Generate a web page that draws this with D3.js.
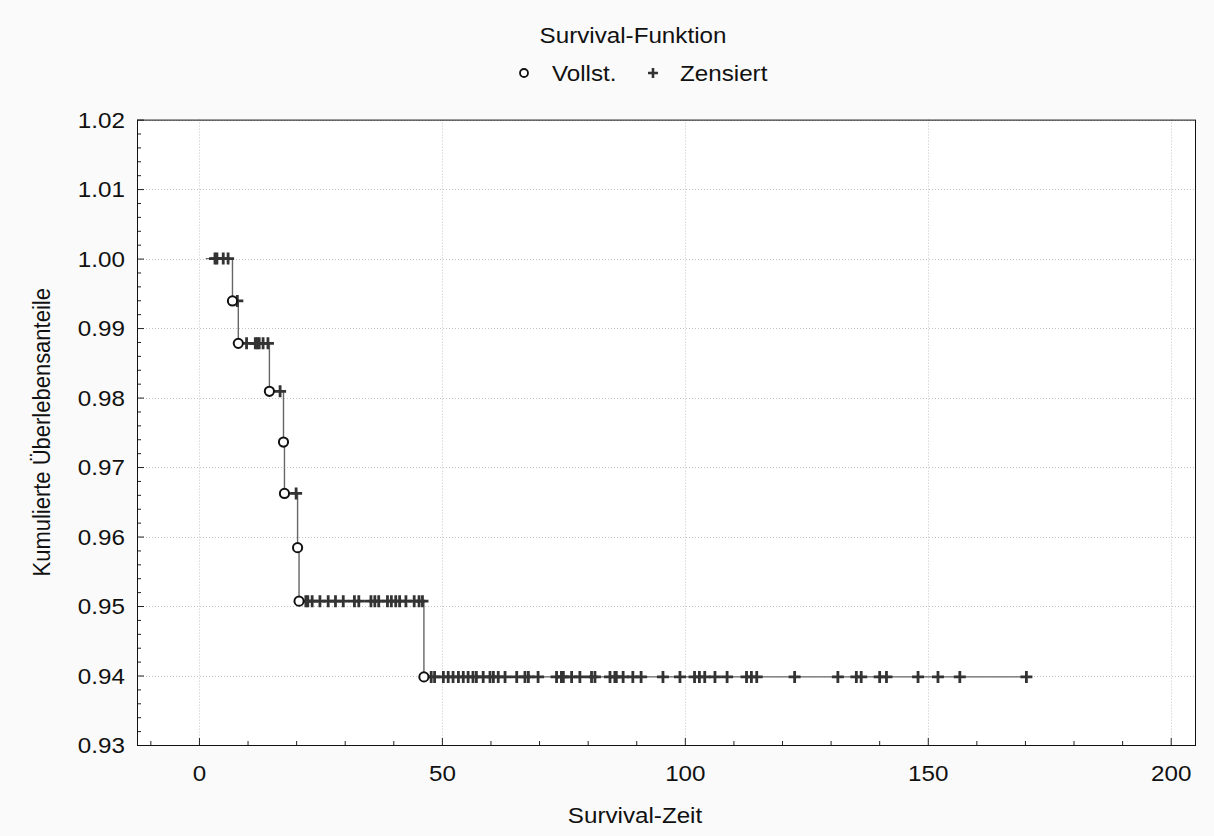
<!DOCTYPE html>
<html>
<head>
<meta charset="utf-8">
<script src="https://cdn.jsdelivr.net/npm/d3@7"></script>
<style>
  body { margin: 0; background: #fafafa; }
  svg { display: block; font-family: "Liberation Sans", Arial, sans-serif; }
</style>
</head>
<body>
<svg></svg>
<script>
// Kaplan-Meier curve: first observed time, event times (Vollst.) and survival after each event
const curveStart = { t: 1.4, s: 1.0 };
const eventTime = [6.9, 8.1, 14.5, 17.4, 17.6, 20.3, 20.6, 46.3];
const eventSurv = [0.9939, 0.9878, 0.9809, 0.9736, 0.9662, 0.9584, 0.9507, 0.9398];

// censored (Zensiert) times, grouped by the survival level they sit on
const censLevel = [1.0, 0.9939, 0.9878, 0.9809, 0.9662, 0.9507, 0.9398];
const censTimes = [
  [3.3, 3.7, 5.0, 6.0],
  [7.9],
  [9.8, 11.6, 12.0, 12.4, 13.2, 14.2],
  [16.7],
  [20.0],
  [22.0, 22.4, 23.3, 24.9, 26.6, 28.1, 29.7, 32.0, 32.9, 35.4, 36.2, 37.0,
   38.8, 39.6, 40.5, 41.3, 42.6, 44.3, 45.3, 46.0],
  [47.8, 48.5, 50.3, 51.3, 52.3, 53.4, 54.4, 55.4, 56.4, 57.1, 58.5, 59.9,
   60.6, 61.6, 63.0, 65.4, 67.1, 67.8, 69.8, 73.6, 74.6, 75.0, 76.7, 78.4,
   80.8, 81.5, 84.6, 85.6, 85.9, 87.3, 89.3, 91.0, 95.5, 99.0, 102.0, 103.0,
   104.1, 106.2, 108.7, 112.7, 113.7, 114.8, 122.6, 131.5, 135.3, 136.3,
   140.1, 141.5, 148.0, 152.1, 156.6, 170.3]
];

const xTicks = [0, 50, 100, 150, 200];
const xMinor = [-10, 10, 20, 30, 40, 60, 70, 80, 90, 110, 120, 130, 140, 160, 170, 180, 190];
const yTicks = [0.93, 0.94, 0.95, 0.96, 0.97, 0.98, 0.99, 1.00, 1.01, 1.02];

const title = "Survival-Funktion";
const legendLabels = ["Vollst.", "Zensiert"];
const xTitle = "Survival-Zeit";
const yTitle = "Kumulierte Überlebensanteile";

// layout
const W = 1214, H = 836;
const plot = { left: 137, right: 1195, top: 119.6, bottom: 745 };
const stretch = "scale(1.1,1)"; // text in the source is a bit wide

const svg = d3.select("svg").attr("width", W).attr("height", H);

svg.append("rect").attr("width", W).attr("height", H).attr("fill", "#fafafa");
svg.append("rect")
  .attr("x", plot.left).attr("y", plot.top)
  .attr("width", plot.right - plot.left).attr("height", plot.bottom - plot.top)
  .attr("fill", "#ffffff");

const x = d3.scaleLinear().domain([-12.75, 205]).range([plot.left, plot.right]);
const y = d3.scaleLinear().domain([0.93, 1.02]).range([plot.bottom, plot.top]);

// dotted grid
const grid = svg.append("g").attr("stroke", "#c4c4c4").attr("stroke-dasharray", "1,2").attr("stroke-width", 1);
grid.selectAll(".gx").data(xTicks).enter().append("line")
  .attr("x1", d => Math.round(x(d)) + 0.5).attr("x2", d => Math.round(x(d)) + 0.5)
  .attr("y1", plot.top).attr("y2", plot.bottom);
grid.selectAll(".gy").data(yTicks).enter().append("line")
  .attr("x1", plot.left).attr("x2", plot.right)
  .attr("y1", d => Math.round(y(d)) + 0.5).attr("y2", d => Math.round(y(d)) + 0.5);

// axes (ticks point into the plot)
const xAxis = svg.append("g")
  .attr("transform", `translate(0,${plot.bottom})`)
  .call(d3.axisBottom(x).tickValues(xTicks).tickSize(-7).tickFormat(d3.format("d")));
svg.append("g")
  .attr("transform", `translate(0,${plot.bottom})`)
  .call(d3.axisBottom(x).tickValues(xMinor).tickSize(-4).tickFormat(""))
  .call(g => g.select(".domain").remove());

const yMinor = d3.range(0, 46).map(i => 0.93 + i * 0.002).filter(v => Math.round(v * 1000) % 10 !== 0);
const yAxis = svg.append("g")
  .attr("transform", `translate(${plot.left},0)`)
  .call(d3.axisLeft(y).tickValues(yTicks).tickSize(-7).tickFormat(d3.format(".2f")));
svg.append("g")
  .attr("transform", `translate(${plot.left},0)`)
  .call(d3.axisLeft(y).tickValues(yMinor).tickSize(-4).tickFormat(""))
  .call(g => g.select(".domain").remove());

svg.selectAll(".domain").remove();
svg.selectAll(".tick line").attr("stroke", "#222");

xAxis.selectAll("text")
  .attr("y", 36).attr("dy", 0)
  .attr("font-size", 22).attr("fill", "#111")
  .attr("transform", stretch);
yAxis.selectAll("text")
  .attr("x", -11).attr("dy", "0.35em")
  .attr("font-size", 22).attr("fill", "#111")
  .attr("transform", stretch);

// frame
svg.append("rect")
  .attr("x", plot.left + 0.5).attr("y", plot.top + 0.5)
  .attr("width", plot.right - plot.left).attr("height", plot.bottom - plot.top)
  .attr("fill", "none").attr("stroke", "#111").attr("stroke-width", 1);

// step line
const curvePts = [curveStart].concat(eventTime.map((t, i) => ({ t: t, s: eventSurv[i] })));
curvePts.push({ t: d3.max(censTimes[censTimes.length - 1]), s: eventSurv[eventSurv.length - 1] });
const line = d3.line().x(d => x(d.t)).y(d => y(d.s)).curve(d3.curveStepAfter);
svg.append("path")
  .datum(curvePts)
  .attr("d", line)
  .attr("fill", "none")
  .attr("stroke", "#666")
  .attr("stroke-width", 1.4);

// censored marks
const plusPath = "M-6,0H6M0,-6V6";
const censPts = [];
censTimes.forEach((ts, i) => ts.forEach(t => censPts.push({ t: t, s: censLevel[i] })));
svg.append("g").selectAll("path").data(censPts).enter().append("path")
  .attr("d", plusPath)
  .attr("transform", d => `translate(${x(d.t)},${y(d.s)})`)
  .attr("stroke", "#333").attr("stroke-width", 2.8).attr("fill", "none");

// complete (event) marks
svg.append("g").selectAll("circle").data(eventTime).enter().append("circle")
  .attr("cx", d => x(d))
  .attr("cy", (d, i) => y(eventSurv[i]))
  .attr("r", 4.6)
  .attr("fill", "#fff").attr("stroke", "#111").attr("stroke-width", 2);

// title and legend
function stretchedText(tx, ty, str, anchor) {
  svg.append("text")
    .attr("transform", `translate(${tx},${ty}) ${stretch}`)
    .attr("text-anchor", anchor)
    .attr("font-size", 22).attr("fill", "#111")
    .text(str);
}
stretchedText(633, 43, title, "middle");
svg.append("circle").attr("cx", 524).attr("cy", 73).attr("r", 4)
  .attr("fill", "#fff").attr("stroke", "#111").attr("stroke-width", 1.8);
stretchedText(552, 81, legendLabels[0], "start");
svg.append("path").attr("d", "M-5,0H5M0,-5V5").attr("transform", "translate(653,73)")
  .attr("stroke", "#333").attr("stroke-width", 2.6);
stretchedText(680, 81, legendLabels[1], "start");

// axis titles
stretchedText(635, 823, xTitle, "middle");
svg.append("text")
  .attr("transform", `translate(50,${(plot.top + plot.bottom) / 2}) rotate(-90) scale(1,1.1)`)
  .attr("text-anchor", "middle")
  .attr("font-size", 22).attr("fill", "#111")
  .text(yTitle);
</script>
</body>
</html>
